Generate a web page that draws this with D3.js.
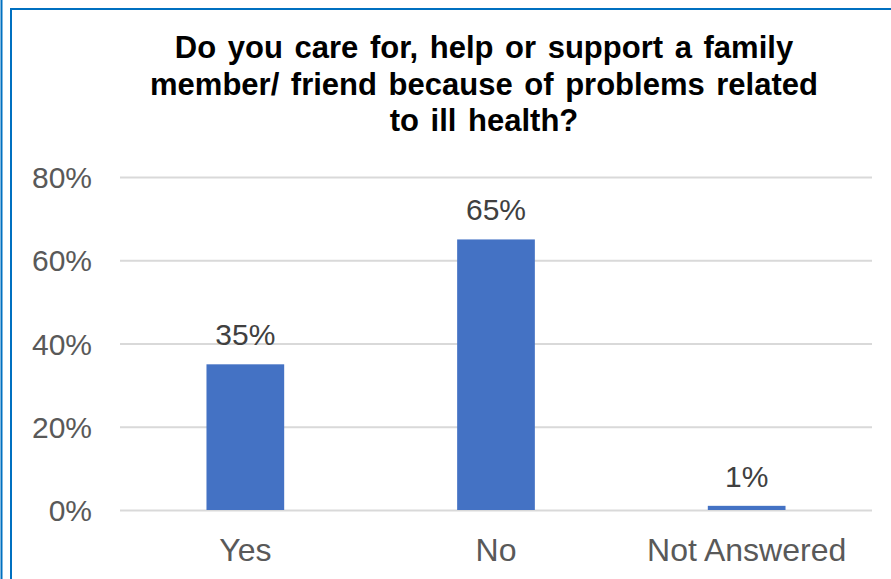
<!DOCTYPE html>
<html>
<head>
<meta charset="utf-8">
<script src="https://cdn.jsdelivr.net/npm/d3@7"></script>
<style>
  html, body { margin: 0; padding: 0; background: #ffffff; }
  svg { display: block; }
</style>
</head>
<body>
<svg id="chart" width="891" height="579"></svg>
<script>
// Survey responses (percent of respondents)
const categories = ["Yes", "No", "Not Answered"];
const values = [35, 65, 1];
const valueLabels = ["35%", "65%", "1%"];
const yTicks = [0, 20, 40, 60, 80];
const titleLines = [
  "Do you care for, help or support a family",
  "member/ friend because of problems related",
  "to ill health?"
];

const svg = d3.select("#chart");
const W = 891, H = 579;
const plot = { left: 120, right: 872, top: 177, bottom: 510 };
const frameColor = "#0070C0";

// Frame lines around the chart area
svg.append("line").attr("x1", 1.5).attr("x2", 1.5).attr("y1", 0).attr("y2", H)
  .attr("stroke", frameColor).attr("stroke-width", 2);
svg.append("line").attr("x1", 11).attr("x2", 11).attr("y1", 8).attr("y2", H)
  .attr("stroke", frameColor).attr("stroke-width", 2);
svg.append("line").attr("x1", 10).attr("x2", W).attr("y1", 9).attr("y2", 9)
  .attr("stroke", frameColor).attr("stroke-width", 2);

// Title
svg.append("g").selectAll("text").data(titleLines).join("text")
  .attr("x", 484)
  .attr("y", (d, i) => 58 + i * 36.5)
  .attr("text-anchor", "middle")
  .attr("font-family", "Liberation Sans, Arial, sans-serif")
  .attr("font-weight", "bold")
  .attr("font-size", 31)
  .attr("word-spacing", 3)
  .attr("fill", "#000000")
  .text(d => d);

const x = d3.scaleBand().domain(categories)
  .range([plot.left, plot.right])
  .paddingInner(0.69).paddingOuter(0.345);
const y = d3.scaleLinear().domain([0, 80]).range([plot.bottom, plot.top]);

// Horizontal gridlines with percentage tick labels
const yAxis = d3.axisLeft(y).tickValues(yTicks).tickFormat(d => d + "%")
  .tickSize(-(plot.right - plot.left)).tickPadding(28);
const gy = svg.append("g").attr("transform", `translate(${plot.left},0)`).call(yAxis);
gy.select(".domain").remove();
gy.selectAll(".tick line").attr("stroke", "#d9d9d9").attr("stroke-width", 2);
gy.selectAll(".tick text")
  .attr("font-family", "Liberation Sans, Arial, sans-serif")
  .attr("font-size", 30).attr("fill", "#595959").attr("dy", "0.35em");

// Bars
svg.append("g").selectAll("rect").data(values).join("rect")
  .attr("x", (d, i) => x(categories[i]))
  .attr("width", x.bandwidth())
  .attr("y", d => y(d))
  .attr("height", d => y(0) - y(d))
  .attr("fill", "#4472C4");

// Value labels above bars
svg.append("g").selectAll("text").data(values).join("text")
  .attr("x", (d, i) => x(categories[i]) + x.bandwidth() / 2)
  .attr("y", d => y(d) - 19)
  .attr("text-anchor", "middle")
  .attr("font-family", "Liberation Sans, Arial, sans-serif")
  .attr("font-size", 30).attr("fill", "#404040")
  .text((d, i) => valueLabels[i]);

// Category axis
const xAxis = d3.axisBottom(x).tickSize(0).tickPadding(28);
const gx = svg.append("g").attr("transform", `translate(0,${plot.bottom})`).call(xAxis);
gx.select(".domain").remove();
gx.selectAll(".tick text")
  .attr("font-family", "Liberation Sans, Arial, sans-serif")
  .attr("font-size", 32).attr("fill", "#595959").attr("dy", "0.71em");
</script>
</body>
</html>
